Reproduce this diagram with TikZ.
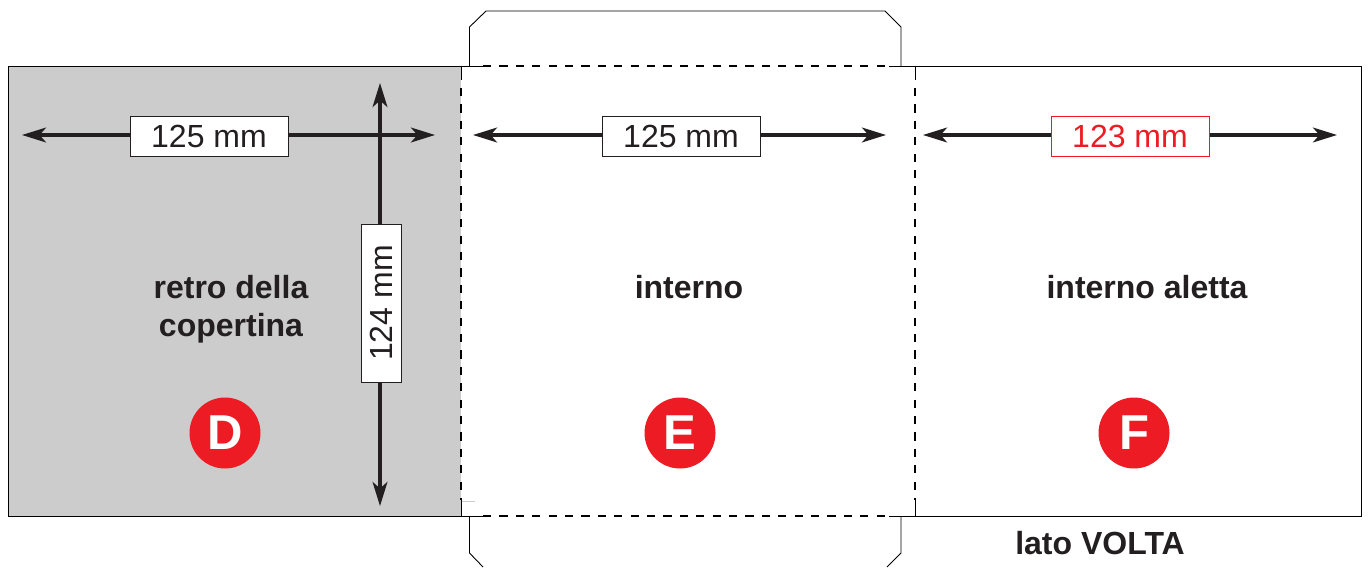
\documentclass[tikz,border=0pt]{standalone}
\usepackage{xcolor}
\usepackage{fontspec}
\setmainfont{Liberation Sans}
\usepackage{tikz}
\usetikzlibrary{calc,positioning,arrows.meta}
\definecolor{inkdark}{HTML}{231F20}
\definecolor{coverred}{HTML}{ED1C24}
\definecolor{covergrey}{gray}{0.8}
\tikzset{
    >={Stealth[length=12pt,width=7.4pt,inset=3.2pt]},
    outline/.style={draw=black, line width=0.45pt},
    foldline/.style={draw=black, line width=0.65pt, dash pattern=on 4.1pt off 4.1pt},
    dimline/.style={draw=inkdark, line width=1.6pt, ->},
    dimbox/.style={
        rectangle,
        draw=inkdark, line width=0.5pt,
        fill=white,
        text=inkdark,
        minimum width=79pt,
        minimum height=20pt,
        inner sep=0pt,
        font={\fontsize{16pt}{18}\selectfont}
    },
    redbox/.style={dimbox, draw=coverred, text=coverred},
    facelabel/.style={
        text=inkdark,
        align=center,
        inner sep=0pt,
        font={\fontsize{16pt}{19pt}\selectfont\bfseries}
    },
    facedot/.style={
        circle,
        fill=coverred,
        text=white,
        minimum size=35.5pt,
        inner sep=0pt,
        font={\fontsize{24.5pt}{28}\selectfont\bfseries}
    },
}
\begin{document}
\begin{tikzpicture}[x=0.5pt, y=-0.5pt]
\useasboundingbox (0,0) rectangle (1368,567);
% panels
\fill[covergrey] (8,66) rectangle (461,516);
\draw[outline] (483,66) -- (8,66) -- (8,516) -- (483,516);
\draw[outline] (889,66) -- (1361,66) -- (1361,516) -- (889,516);
\draw[foldline] (483,66) -- (889,66);
\draw[foldline] (483,516) -- (889,516);
\draw[draw=covergrey, line width=0.4pt] (461,501) -- (475,501);
% folds
\draw[outline] (461,66) -- (461,80);
\draw[outline] (461,500) -- (461,516);
\draw[outline] (915,66) -- (915,80);
\draw[outline] (915,500) -- (915,516);
\draw[foldline] (461,88) -- (461,500);
\draw[foldline] (915,88) -- (915,500);
% flaps
\draw[outline] (469.5,66) -- (469.5,27) -- (486,11) -- (885,11) -- (901,27) -- (901,66);
\draw[outline] (469.5,516) -- (469.5,553) -- (483,567);
\draw[outline] (901,516) -- (901,553) -- (887,567);
% dimensions
\coordinate (dl) at (22,135);
\coordinate (dr) at (435,135);
\coordinate (dt) at (380,83);
\coordinate (db) at (380,506);
\coordinate (el) at (473,135);
\coordinate (er) at (886,135);
\coordinate (fl) at (923,135);
\coordinate (fr) at (1337,135);
\node[dimbox] (dwidth) at (209,136){125 mm};
\node[dimbox, rotate=90] (dheight) at (381.5,303){124 mm};
\node[dimbox] (ewidth) at (681,136){125 mm};
\node[redbox] (fwidth) at (1130,136){123 mm};
\draw[dimline] (dwidth.west |- dl) to (dl);
\draw[dimline] (dwidth.east |- dr) to (dr);
\draw[dimline] (dt |- dheight.east) to (dt);
\draw[dimline] (db |- dheight.west) to (db);
\draw[dimline] (ewidth.west |- el) to (el);
\draw[dimline] (ewidth.east |- er) to (er);
\draw[dimline] (fwidth.west |- fl) to (fl);
\draw[dimline] (fwidth.east |- fr) to (fr);
% labels
\node[facelabel] (retro) at (231,309){retro della\\copertina};
\node[facelabel] (interno) at (689,287){interno};
\node[facelabel] (aletta) at (1147,287){interno aletta};
\node[facelabel] (volta) at (1100,543){lato VOLTA};
\node[facedot] (D) at (225,433){D};
\node[facedot] (E) at (680,433){E};
\node[facedot] (F) at (1134,433){F};
\end{tikzpicture}
\end{document}
